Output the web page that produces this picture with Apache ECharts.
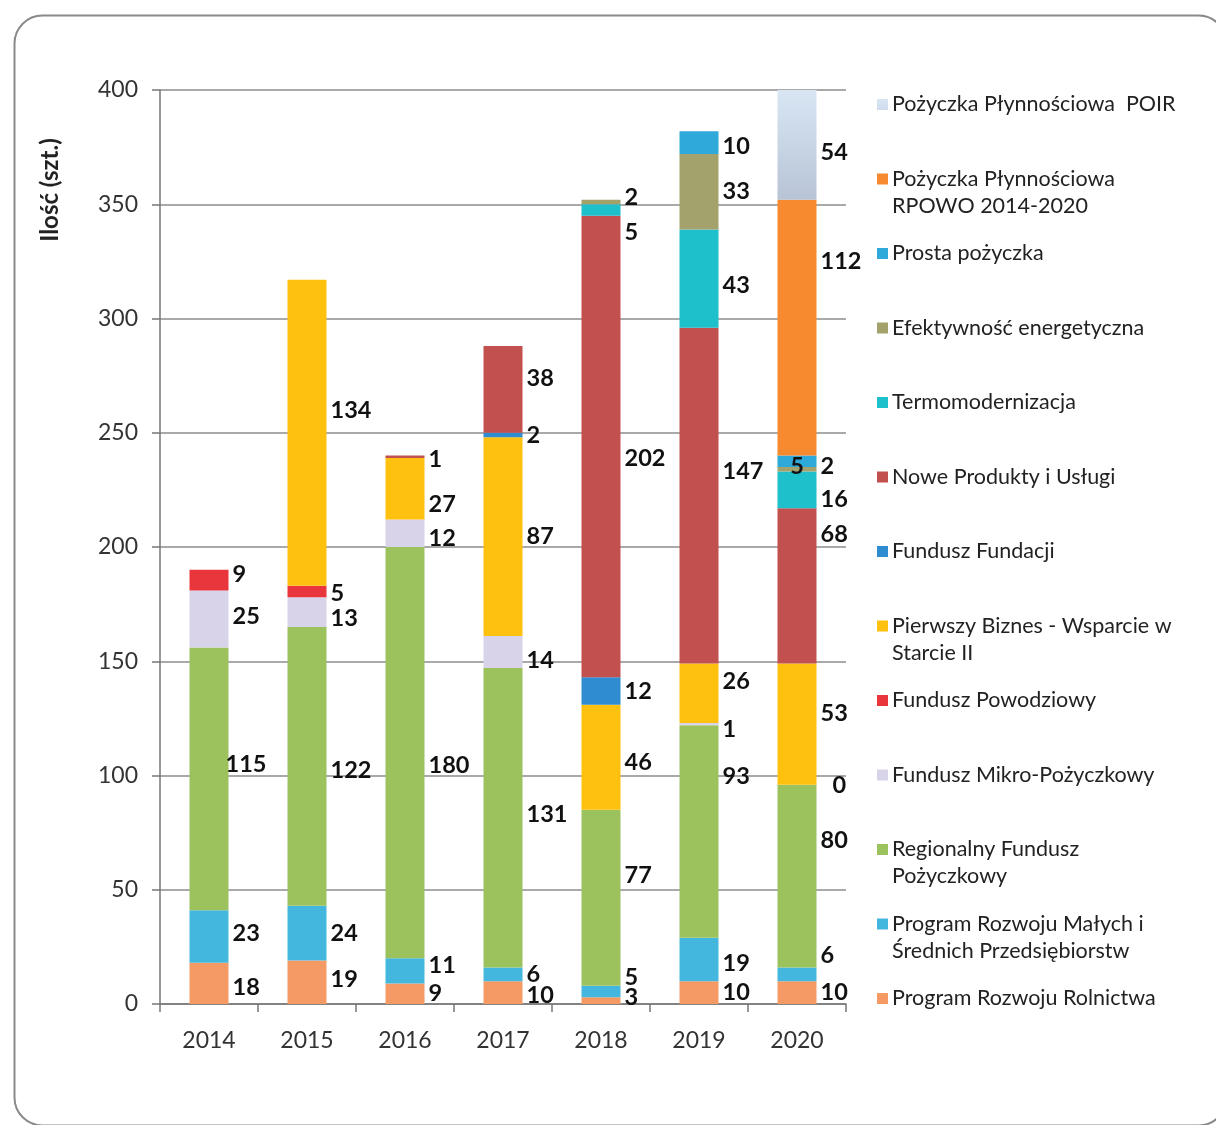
<!DOCTYPE html>
<html>
<head>
<meta charset="utf-8">
<script src="https://cdn.jsdelivr.net/npm/echarts@6/dist/echarts.min.js"></script>
<style>
html,body{margin:0;padding:0;background:#fff;}
#chart{width:1216px;height:1125px;}
</style>
</head>
<body>
<div id="chart"></div>
<script>
// ---- data ----
var years = ['2014','2015','2016','2017','2018','2019','2020'];
var yTicks = [0,50,100,150,200,250,300,350,400];

var rolnictwa   = [18, 19, 9, 10, 3, 10, 10];
var msp         = [23, 24, 11, 6, 5, 19, 6];
var regionalny  = [115, 122, 180, 131, 77, 93, 80];
var mikro       = [25, 13, 12, 14, null, 1, 0];
var powodziowy  = [9, 5, null, null, null, null, null];
var pierwszy    = [null, 134, 27, 87, 46, 26, 53];
var fundacji    = [null, null, null, 2, 12, null, null];
var nowe        = [null, null, 1, 38, 202, 147, 68];
var termo       = [null, null, null, null, 5, 43, 16];
var efekt       = [null, null, null, null, 2, 33, 2];
var prosta      = [null, null, null, null, null, 10, 5];
var rpowo       = [null, null, null, null, null, null, 112];
var poir        = [null, null, null, null, null, null, 54];

// series definitions (stack order bottom -> top)
var seriesDefs = [
  {name:'Program Rozwoju Rolnictwa', data:rolnictwa, color:'#F59A64', legend:'Program Rozwoju Rolnictwa'},
  {name:'Program Rozwoju Małych i Średnich Przedsiębiorstw', data:msp, color:'#43B7DE', legend:'Program Rozwoju Małych i\nŚrednich Przedsiębiorstw'},
  {name:'Regionalny Fundusz Pożyczkowy', data:regionalny, color:'#9CC25E', legend:'Regionalny Fundusz\nPożyczkowy'},
  {name:'Fundusz Mikro-Pożyczkowy', data:mikro, color:'#D8D3E8', legend:'Fundusz Mikro-Pożyczkowy'},
  {name:'Fundusz Powodziowy', data:powodziowy, color:'#E8363C', legend:'Fundusz Powodziowy'},
  {name:'Pierwszy Biznes - Wsparcie w Starcie II', data:pierwszy, color:'#FFC10F', legend:'Pierwszy Biznes - Wsparcie w\nStarcie II'},
  {name:'Fundusz Fundacji', data:fundacji, color:'#2F8CD1', legend:'Fundusz Fundacji'},
  {name:'Nowe Produkty i Usługi', data:nowe, color:'#C2504E', legend:'Nowe Produkty i Usługi'},
  {name:'Termomodernizacja', data:termo, color:'#1DC0CB', legend:'Termomodernizacja'},
  {name:'Efektywność energetyczna', data:efekt, color:'#A4A26C', legend:'Efektywność energetyczna'},
  {name:'Prosta pożyczka', data:prosta, color:'#2FA9D9', legend:'Prosta pożyczka'},
  {name:'Pożyczka Płynnościowa RPOWO 2014-2020', data:rpowo, color:'#F78A2E', legend:'Pożyczka Płynnościowa\nRPOWO 2014-2020'},
  {name:'Pożyczka Płynnościowa POIR', data:poir, color:'#C8D6E8', legend:'Pożyczka Płynnościowa  POIR'}
];

// label nudges (presentation only): [dx, dy] per series index, per year index
var labelNudge = {
  0: [[0,4],[0,-3],[0,0],[0,3],[0,-3],[0,0],[0,0]],
  1: [[0,-3],[0,0],[0,-5],[0,0],[0,-14],[0,4],[0,-19]],
  2: [[-7,-15],[0,4],[0,13],[0,-3],[0,-22],[0,-55],[0,-36]],
  3: [[0,-3],[0,6],[0,5],[0,8],[0,0],[0,5],[12,1]],
  4: [[0,-6],[0,2],[0,0],[0,0],[0,0],[0,0],[0,0]],
  5: [[0,0],[0,-22],[0,16],[0,0],[0,5],[0,-12],[0,-11]],
  6: [[0,0],[0,0],[0,0],[0,0],[0,0],[0,0],[0,0]],
  7: [[0,0],[0,0],[0,3],[0,-11],[0,12],[0,-24],[0,-51]],
  8: [[0,0],[0,0],[0,0],[0,0],[0,22],[0,7],[0,10]],
  9: [[0,0],[0,0],[0,0],[0,0],[0,-5],[0,0],[0,-3]],
  10: [[0,0],[0,0],[0,0],[0,0],[0,0],[0,4],[0,5]],
  11: [[0,0],[0,0],[0,0],[0,0],[0,0],[0,0],[0,-66]],
  12: [[0,0],[0,0],[0,0],[0,0],[0,0],[0,0],[0,8]]
};

var FONT = 'Lato, "Open Sans", sans-serif';
var labelFont = {fontFamily:FONT, fontWeight:'bold', fontSize:23.5, color:'#111'};

var series = seriesDefs.map(function(d, si){
  return {
    name: d.name,
    type: 'bar',
    stack: 'total',
    barWidth: 39,
    itemStyle: si === 12 ? {
      color: new echarts.graphic.LinearGradient(0,0,0,1,[{offset:0,color:'#D8E6F4'},{offset:1,color:'#B8C4D6'}])
    } : {color: d.color},
    label: Object.assign({show:true, position:'right', distance:4, formatter:'{c}'}, labelFont),
    data: d.data.map(function(v, yi){
      if (v === null) return null;
      var n = labelNudge[si][yi];
      var item = {value: v, label: {offset: n}};
      if (si === 10 && yi === 6) {
        item.label = {position:'inside', offset:[0,5]};
      }
      return item;
    })
  };
});

var legendTextMap = {};
seriesDefs.forEach(function(d){ legendTextMap[d.name] = d.legend; });

var chart = echarts.init(document.getElementById('chart'));
chart.setOption({
  animation: false,
  backgroundColor: '#ffffff',
  grid: {left:160, right:370, top:90, bottom:121, containLabel:false},
  graphic: [
    {type:'rect', left:12, top:13, shape:{x:0, y:0, width:1212, height:1110, r:28},
     style:{fill:'none', stroke:'#8a8a8a', lineWidth:2}, silent:true, z:-10},
    {type:'text', x:50, y:190, rotation:Math.PI/2,
     style:{text:'Ilość (szt.)', fontFamily:FONT, fontWeight:'bold', fontSize:24, fill:'#222', align:'center', verticalAlign:'middle'}}
  ],
  legend: {
    orient: 'vertical',
    left: 872,
    top: 86,
    itemGap: 20.5,
    itemWidth: 11,
    itemHeight: 38,
    icon: 'path://M0,0h11v11h-11z M0,38h0.01v0.01h-0.01z',
    selectedMode: false,
    data: seriesDefs.slice().reverse().map(function(d){ return d.name; }),
    formatter: function(name){
      var t = legendTextMap[name];
      return t.indexOf('\n') >= 0 ? t : t + '\n ';
    },
    textStyle: {fontFamily:FONT, fontSize:21.5, color:'#222', lineHeight:27, padding:[0,0,0,-1]}
  },
  xAxis: {
    type: 'category',
    data: years,
    axisLine: {lineStyle:{color:'#777', width:1.5}},
    axisTick: {show:true, length:8, lineStyle:{color:'#777', width:1.5}},
    axisLabel: {fontFamily:FONT, fontSize:23, color:'#333', margin:25}
  },
  yAxis: {
    type: 'value',
    min: yTicks[0],
    max: yTicks[yTicks.length-1],
    interval: 50,
    axisLine: {show:true, lineStyle:{color:'#777', width:1.5}},
    axisTick: {show:true, length:8, lineStyle:{color:'#777', width:1.5}},
    axisLabel: {fontFamily:FONT, fontSize:23, color:'#333', margin:22},
    splitLine: {show:true, lineStyle:{color:'#8c8c8c', width:1.5}}
  },
  series: series
});
</script>
</body>
</html>
